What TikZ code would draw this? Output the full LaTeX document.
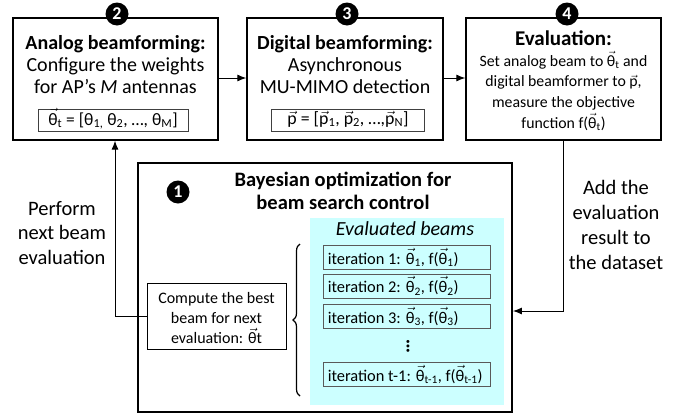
\documentclass[tikz,border=0pt]{standalone}
\usepackage{amsmath}
\usepackage{fontspec}
\setmainfont{Carlito}
\usetikzlibrary{arrows.meta,decorations.pathreplacing}
\definecolor{lcyan}{RGB}{204,255,255}
\newcommand\vth{\ensuremath{\vec{\text{θ}}}}
\newcommand\vp{\ensuremath{\vec{\text{p}}}}
\newcommand\ssub[1]{\ensuremath{_{\text{#1}}}}
\begin{document}
\begin{tikzpicture}[x=1pt,y=-1pt,
  bigbox/.style={draw,line width=1.3pt,inner sep=0pt},
  numcirc/.style={circle,fill=black,text=white,inner sep=0pt,minimum size=23pt,font=\fontsize{18}{18}\selectfont\bfseries},
  formbox/.style={draw=black!75,line width=0.9pt,inner sep=0pt},
  iterbox/.style={draw=black!65,line width=0.9pt,inner sep=0pt,minimum width=167pt,minimum height=24pt},
  itertext/.style={anchor=west,inner sep=0pt,font=\fontsize{16.4}{18}\selectfont},
  maintext/.style={align=center,inner sep=0pt,font=\fontsize{20}{22}\selectfont},
  conn/.style={line width=1pt,-{Latex[length=9pt,width=7pt]}}]
\useasboundingbox (0,0) rectangle (688,418);
% box 2
\node[bigbox,minimum width=205pt,minimum height=122pt] (b2) at (115.5,79) {};
\node[numcirc] (c2) at (117,14) {2};
\node[maintext] (t2) at (115.5,65) {\textbf{Analog beamforming:}\\Configure the weights\\for AP’s \textit{M} antennas};
\node[formbox,minimum width=150pt,minimum height=22pt] (f2) at (113,120) {};
\node[inner sep=0pt,font=\fontsize{17.5}{18}\selectfont] (f2t) at (113,119) {\vth\ssub{t} = [θ\ssub{1,} θ\ssub{2}, …, θ\ssub{M}]};
% box 3
\node[bigbox,minimum width=196pt,minimum height=122pt] (b3) at (345,79) {};
\node[numcirc] (c3) at (347,14) {3};
\node[maintext] (t3) at (345,65) {\textbf{Digital beamforming:}\\Asynchronous\\MU-MIMO detection};
\node[formbox,minimum width=153pt,minimum height=22pt] (f3) at (348,120) {};
\node[inner sep=0pt,font=\fontsize{17.8}{18}\selectfont] (f3t) at (348,119) {\vp{} = [\vp\ssub{1}, \vp\ssub{2}, …,\vp\ssub{N}]};
% box 4
\node[bigbox,minimum width=195pt,minimum height=122pt] (b4) at (563.5,79) {};
\node[numcirc] (c4) at (567,14) {4};
\node[inner sep=0pt,font=\fontsize{21}{22}\selectfont\bfseries] (t4a) at (563.5,38) {Evaluation:};
\node[align=center,inner sep=0pt,font=\fontsize{15.8}{20.7}\selectfont] (t4b) at (563.5,91) {Set analog beam to \vth\ssub{t} and\\digital beamformer to \vp,\\measure the objective\\function f(\vth\ssub{t})};
% box 1
\node[draw,line width=1.8pt,minimum width=374pt,minimum height=249pt,inner sep=0pt] (b1) at (325,287.5) {};
\node[numcirc] (c1) at (178,192) {1};
\node[maintext,font=\fontsize{20.5}{23.5}\selectfont\bfseries] (t1) at (343,191) {Bayesian optimization for\\beam search control};
\node[fill=lcyan,minimum width=194pt,minimum height=187pt,inner sep=0pt] (cy) at (407,311.5) {};
\node[inner sep=0pt,font=\fontsize{20}{20}\selectfont\itshape] (ev) at (405,229) {Evaluated beams};
\node[iterbox] (i1) at (406.5,257.5) {};
\node[iterbox] (i2) at (406.5,286) {};
\node[iterbox] (i3) at (406.5,316.5) {};
\node[iterbox] (i4) at (406.5,374.5) {};
\node[itertext] at ([xshift=5pt]i1.west) {iteration 1: \vth\ssub{1}, f(\vth\ssub{1})};
\node[itertext] at ([xshift=5pt]i2.west) {iteration 2: \vth\ssub{2}, f(\vth\ssub{2})};
\node[itertext] at ([xshift=5pt]i3.west) {iteration 3: \vth\ssub{3}, f(\vth\ssub{3})};
\node[itertext] at ([xshift=5pt]i4.west) {iteration t-1: \vth\ssub{t-1}, f(\vth\ssub{t-1})};
\node[inner sep=0pt,font=\fontsize{20}{20}\selectfont\bfseries] (dots) at (408,346) {\rotatebox{90}{…}};
\draw[line width=1.2pt,decorate,decoration={brace,amplitude=7pt}] (300,396) -- (300,244);
\node[draw,line width=0.9pt,minimum width=139pt,minimum height=66pt,inner sep=0pt] (cb) at (216.5,316) {};
\node[align=center,inner sep=0pt,font=\fontsize{16}{20}\selectfont] (cbt) at (216.5,318) {Compute the best\\beam for next\\evaluation: \vth t};
% connectors
\draw[conn] (b2.east |- 0,78) -- (b3.west |- 0,78);
\draw[conn] (b3.east |- 0,78) -- (b4.west |- 0,78);
\coordinate (k) at (115,316);
\draw[conn] (cb.west) -- (k) -- (k |- b2.south);
\coordinate (j) at (563.5,311);
\draw[conn] (b4.south) -- (j) -- (j -| b1.east);
\node[maintext,font=\fontsize{20.5}{24.5}\selectfont] (lp) at (62,233) {Perform\\next beam\\evaluation};
\node[maintext,font=\fontsize{20.5}{24.7}\selectfont] (la) at (616,225) {Add the\\evaluation\\result to\\the dataset};
\end{tikzpicture}
\end{document}
